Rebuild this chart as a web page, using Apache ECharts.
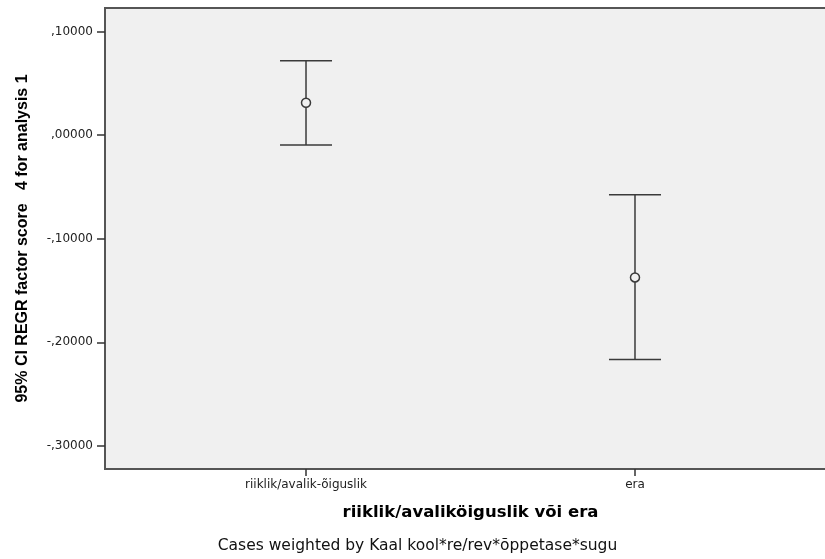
<!DOCTYPE html>
<html>
<head>
<meta charset="utf-8">
<script src="https://cdn.jsdelivr.net/npm/echarts@6/dist/echarts.min.js"></script>
<style>html,body{margin:0;padding:0;background:#fff}#c{width:825px;height:559px}</style>
</head>
<body>
<div id="c"></div>
<script>
// Data
var categories = ['riiklik/avalik-õiguslik', 'era'];
var means = [0.0312, -0.1374];
var lowers = [-0.0097, -0.2165];
var uppers = [0.0717, -0.0576];
var yTicks = [-0.30, -0.20, -0.10, 0.00, 0.10];
var xTitle = 'riiklik/avaliköiguslik või era';
var yTitle = '95% CI REGR factor score   4 for analysis 1';
var footer = 'Cases weighted by Kaal kool*re/rev*õppetase*sugu';

function fmt(v) {
  var s = Math.abs(v).toFixed(5).replace(/^0/, '').replace('.', ',');
  return (v < -1e-9 ? '-' : '') + s;
}

var chart = echarts.init(document.getElementById('c'), null, {renderer: 'canvas'});
var catIdx = categories.map(function (c, i) { return i; });

chart.setOption({
  animation: false,
  backgroundColor: '#fff',
  grid: {
    left: 105, top: 8, width: 731, height: 461,
    outerBoundsMode: 'none', containLabel: false,
    show: true, backgroundColor: '#f0f0f0', borderColor: '#555', borderWidth: 2
  },
  xAxis: {
    type: 'value', min: -0.611, max: 1.611,
    splitLine: {show: false},
    axisLine: {show: true, onZero: false, lineStyle: {color: '#555', width: 2}},
    axisTick: {show: true, customValues: catIdx, length: 7, lineStyle: {color: '#333', width: 1.5}},
    axisLabel: {
      customValues: catIdx, margin: 10,
      formatter: function (v) { return categories[Math.round(v)] || ''; },
      fontFamily: 'DejaVu Sans', fontSize: 12, color: '#222'
    },
    name: xTitle, nameLocation: 'middle', nameGap: 35,
    nameTextStyle: {fontFamily: 'DejaVu Sans', fontWeight: 'bold', fontSize: 16.5, color: '#000'}
  },
  yAxis: {
    type: 'value', min: -0.3222, max: 0.1226,
    splitLine: {show: false},
    axisLine: {show: true, onZero: false, lineStyle: {color: '#555', width: 2}},
    axisTick: {show: true, customValues: yTicks, length: 8, lineStyle: {color: '#333', width: 1.5}},
    axisLabel: {
      customValues: yTicks, margin: 12, formatter: fmt,
      fontFamily: 'DejaVu Sans', fontSize: 12, color: '#222'
    },
    name: yTitle, nameLocation: 'middle', nameGap: 74,
    nameTextStyle: {fontFamily: 'Liberation Sans', fontWeight: 'bold', fontSize: 16, color: '#000'}
  },
  graphic: [{
    type: 'text', x: 417.5, y: 546,
    style: {text: footer, textAlign: 'center', textVerticalAlign: 'middle',
      font: '15.5px "DejaVu Sans"', fill: '#111'}
  }],
  series: [{
    type: 'custom',
    data: catIdx.map(function (i) { return [i, lowers[i], uppers[i]]; }),
    renderItem: function (params, api) {
      var x = api.value(0);
      var lo = api.coord([x, api.value(1)]);
      var hi = api.coord([x, api.value(2)]);
      var hw = 26;
      var st = {stroke: '#3a3a3a', lineWidth: 1.5};
      return {type: 'group', children: [
        {type: 'line', shape: {x1: lo[0], y1: lo[1], x2: hi[0], y2: hi[1]}, style: st},
        {type: 'line', shape: {x1: hi[0] - hw, y1: hi[1], x2: hi[0] + hw, y2: hi[1]}, style: st},
        {type: 'line', shape: {x1: lo[0] - hw, y1: lo[1], x2: lo[0] + hw, y2: lo[1]}, style: st}
      ]};
    },
    z: 2
  }, {
    type: 'scatter',
    data: catIdx.map(function (i) { return [i, means[i]]; }),
    symbol: 'circle', symbolSize: 9,
    itemStyle: {color: '#f0f0f0', borderColor: '#3a3a3a', borderWidth: 1.5, opacity: 1},
    z: 3
  }]
});
</script>
</body>
</html>
